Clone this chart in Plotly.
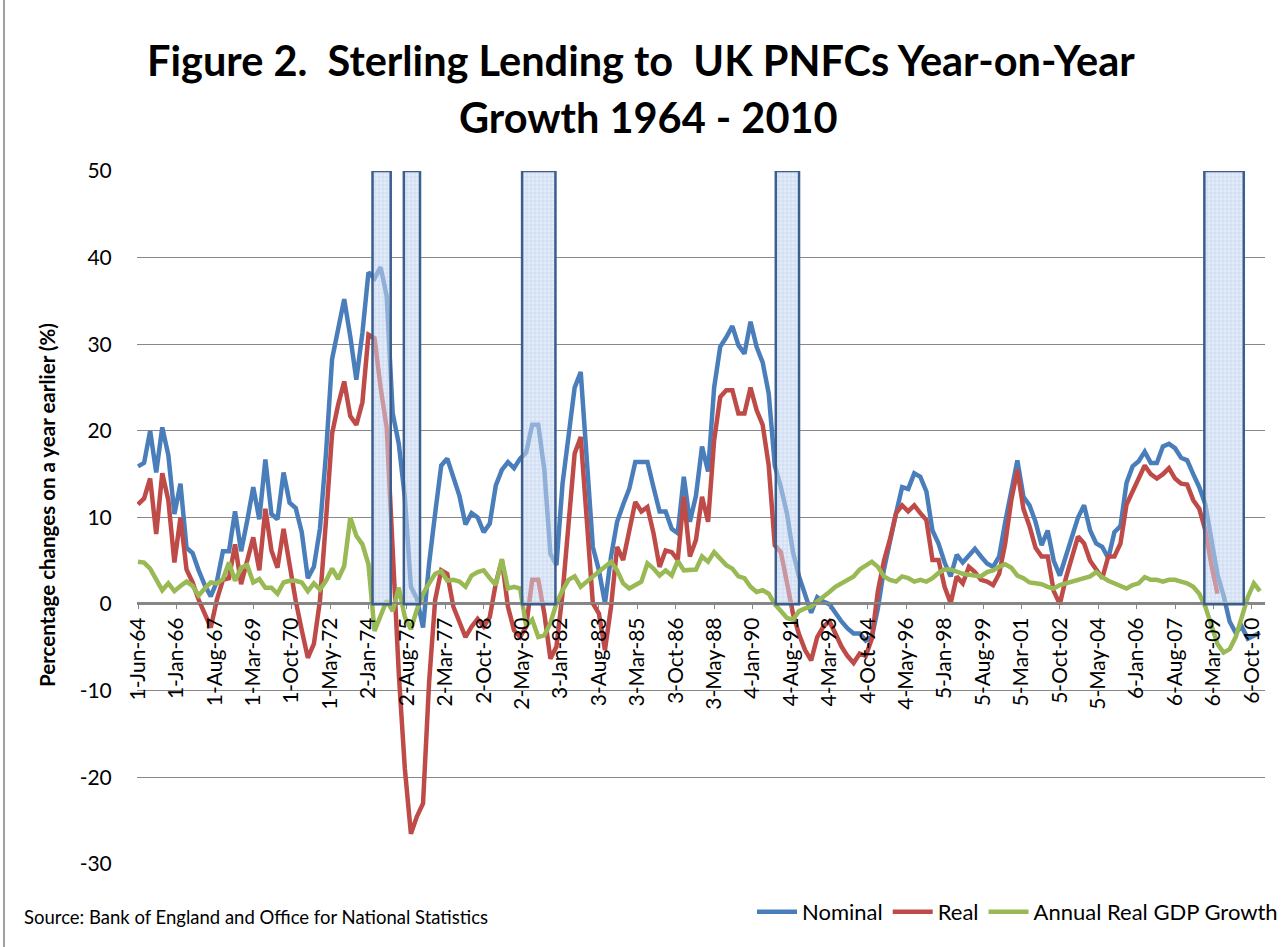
import plotly.graph_objects as go

# ---------------- data (quarterly, starting Jun-1964) ----------------
nominal = [15.9,16.3,20.0,15.2,20.4,17.2,10.4,13.9,6.5,5.9,
 3.9,2.2,0.9,2.6,6.1,6.1,10.7,6.1,9.6,13.5,
 9.8,16.7,10.4,9.8,15.2,11.7,11.1,8.3,3.0,4.3,
 8.7,17.4,28.3,31.5,35.2,30.9,25.9,31.3,38.3,37.6,
 38.9,35.6,22.0,18.5,12.3,2.0,0.6,-2.7,4.7,10.5,
 16.0,16.8,14.7,12.5,9.2,10.5,10.0,8.3,9.3,13.7,
 15.5,16.4,15.7,16.8,17.5,20.7,20.7,15.5,5.8,4.5,
 13.9,20.0,25.0,26.8,16.6,6.6,3.9,0.1,5.5,9.5,
 11.5,13.3,16.4,16.4,16.4,13.5,10.7,10.7,8.7,8.2,
 14.7,9.5,12.5,18.2,15.3,25.0,29.7,30.8,32.1,29.9,
 28.9,32.6,29.7,27.9,24.3,16.0,13.5,10.5,6.0,3.2,
 1.2,-1.0,0.8,0.3,0.0,-1.1,-2.0,-2.8,-3.4,-3.4,
 -4.2,-3.8,-0.5,4.0,7.5,10.5,13.5,13.3,15.1,14.7,
 13.0,8.5,7.0,4.8,3.2,5.7,4.8,5.6,6.4,5.5,
 4.7,4.3,5.5,9.5,13.0,16.6,12.4,11.4,9.5,6.8,
 8.5,5.0,3.3,5.5,8.0,10.0,11.4,8.5,7.0,6.6,
 5.3,8.3,9.0,14.0,15.9,16.5,17.6,16.3,16.3,18.2,
 18.5,18.0,16.9,16.6,15.0,13.5,11.5,7.5,3.4,1.0,
 -2.0,-3.3,-2.6,-4.0,-3.6,-3.3]

real = [11.5,12.2,14.5,8.1,15.1,12.0,4.8,10.0,4.0,2.5,
 0.5,-1.2,-2.7,0.5,2.8,3.0,6.9,2.3,5.0,7.7,
 3.9,11.0,6.2,4.2,8.7,4.2,0.4,-3.0,-6.2,-4.6,
 0.4,9.7,19.7,23.0,25.7,21.7,20.7,23.3,31.1,30.7,
 25.0,20.4,6.0,-8.0,-19.0,-26.5,-24.5,-23.0,-9.0,0.5,
 3.9,3.5,-0.3,-2.2,-3.8,-2.6,-1.7,-2.6,-1.5,2.4,
 5.1,-0.3,-3.0,-3.8,-2.6,2.8,2.8,-1.1,-6.3,-4.9,
 1.2,9.3,17.4,19.3,10.0,0.1,-1.1,-5.3,-0.3,6.6,
 5.1,8.5,11.8,10.7,11.2,8.2,4.3,6.2,6.0,5.1,
 12.4,5.5,7.4,12.4,9.5,18.9,23.9,24.7,24.7,22.0,
 22.0,25.0,22.4,20.7,16.0,6.8,6.0,2.5,-1.1,-3.5,
 -5.3,-6.5,-3.8,-2.6,-2.0,-3.4,-4.9,-6.0,-6.8,-5.7,
 -6.0,-4.0,1.5,5.0,7.5,10.5,11.4,10.7,11.4,10.5,
 9.7,5.1,5.1,2.0,0.1,3.2,2.4,4.3,3.7,2.8,
 2.6,2.2,3.5,7.0,12.0,15.5,11.0,9.0,6.5,5.5,
 5.5,1.5,0.0,3.0,5.5,7.8,7.0,5.0,4.0,3.0,
 5.5,5.5,7.0,11.5,13.0,14.5,16.0,15.0,14.5,15.0,
 15.7,14.5,13.9,13.8,12.0,11.0,8.5,4.5,1.2]

gdp = [4.9,4.8,4.1,2.9,1.6,2.4,1.5,2.1,2.6,2.1,
 1.0,1.8,2.5,2.4,2.9,4.8,2.7,4.2,4.5,2.5,
 2.9,1.9,1.9,1.2,2.5,2.7,2.7,2.5,1.5,2.4,
 1.7,2.7,4.1,2.9,4.4,10.0,7.9,6.9,4.6,-3.1,
 -1.2,0.4,-0.8,1.9,-1.5,-2.9,-0.6,1.2,2.4,3.5,
 3.8,2.7,2.8,2.6,2.0,3.3,3.7,3.9,3.0,2.2,
 5.2,1.8,2.0,1.8,-2.5,-1.8,-3.8,-3.6,-2.2,0.1,
 1.6,2.8,3.2,2.0,2.6,3.2,3.7,4.3,4.9,3.9,
 2.4,1.8,2.2,2.6,4.7,4.1,3.3,3.9,3.3,5.0,
 3.9,3.9,4.0,5.5,4.9,6.0,5.3,4.5,4.1,3.2,
 3.0,2.0,1.4,1.6,1.2,0.0,-0.8,-1.6,-1.8,-0.8,
 -0.5,-0.3,0.3,0.8,1.4,2.0,2.4,2.8,3.2,4.0,
 4.5,4.9,4.3,3.2,2.8,2.6,3.2,3.0,2.6,2.8,
 2.6,3.0,3.6,4.0,4.0,3.7,3.5,3.4,3.3,3.2,
 3.7,3.9,4.3,4.6,4.2,3.3,3.0,2.5,2.4,2.3,
 2.0,1.8,2.2,2.4,2.6,2.8,3.0,3.2,3.7,3.1,
 2.7,2.4,2.2,1.8,2.2,2.4,3.1,2.8,2.8,2.6,
 2.8,2.8,2.6,2.4,2.0,1.2,-0.3,-2.5,-4.6,-5.6,
 -5.2,-3.8,-1.6,0.8,2.4,1.5]

tick_labels = ["1-Jun-64","1-Jan-66","1-Aug-67","1-Mar-69","1-Oct-70","1-May-72",
 "2-Jan-74","2-Aug-75","2-Mar-77","2-Oct-78","2-May-80","3-Jan-82","3-Aug-83",
 "3-Mar-85","3-Oct-86","3-May-88","4-Jan-90","4-Aug-91","4-Mar-93","4-Oct-94",
 "4-May-96","5-Jan-98","5-Aug-99","5-Mar-01","5-Oct-02","5-May-04","6-Jan-06",
 "6-Aug-07","6-Mar-09","6-Oct-10"]
label_step_months = 19

y_ticks = [-30, -20, -10, 0, 10, 20, 30, 40, 50]

# recession periods (months after Jun-1964)
recession_start = [116, 131.5, 190, 315.5, 527.5]
recession_end = [125, 139.5, 206.5, 327, 547]
recession_top = 50

# ---------------- layout helpers ----------------
W, H = 1283, 947
ML, MR, MT, MB = 137, 18, 171, 83
PW, PH = W - ML - MR, H - MT - MB

def px(x):
    return (x - ML) / PW

def py(y):
    return (H - MB - y) / PH

months = lambda series: [3 * i for i in range(len(series))]

BLUE, RED, GREEN = "#4A7EBB", "#BE4B48", "#98B954"
BOX = "#3B5E8C"
FONT = "Lato"

fig = go.Figure()

# patterned recession boxes (underneath)
fig.add_trace(go.Bar(
    x=[(s + e) / 2 for s, e in zip(recession_start, recession_end)],
    y=[recession_top] * len(recession_start),
    width=[e - s for s, e in zip(recession_start, recession_end)],
    base=0, showlegend=False, hoverinfo="skip",
    marker=dict(color="#EEF3FB", line=dict(width=0),
                pattern=dict(shape="+", fgcolor="#8FADDC", bgcolor="#F4F7FC", size=4, solidity=0.4)),
))

fig.add_trace(go.Scatter(x=months(nominal), y=nominal, name="Nominal", mode="lines",
                         line=dict(color=BLUE, width=4.5)))
fig.add_trace(go.Scatter(x=months(real), y=real, name="Real", mode="lines",
                         line=dict(color=RED, width=4.5)))
fig.add_trace(go.Scatter(x=months(gdp), y=gdp, name="Annual Real GDP Growth", mode="lines",
                         line=dict(color=GREEN, width=4.5)))

# translucent veil + outline of the recession boxes (above the lines)
for s, e in zip(recession_start, recession_end):
    fig.add_shape(type="rect", xref="x", yref="y", x0=s, x1=e, y0=0, y1=recession_top,
                  fillcolor="rgba(214,226,245,0.5)", line=dict(color=BOX, width=2.5),
                  layer="above")

# chart border on left
fig.add_shape(type="line", xref="paper", yref="paper", x0=px(4), x1=px(4), y0=py(0), y1=py(H),
              line=dict(color="#A0A0A0", width=2))

annotations = [
    dict(text="<b>Figure 2.  Sterling Lending to  UK PNFCs Year-on-Year</b>", x=px(641), y=py(60),
         font=dict(size=41.5, family=FONT, color="black")),
    dict(text="<b>Growth 1964 - 2010</b>", x=px(648), y=py(117),
         font=dict(size=41.5, family=FONT, color="black")),
    dict(text="<b>Percentage changes on a year earlier (%)</b>", x=px(47), y=py(505), textangle=-90,
         font=dict(size=20.5, family=FONT, color="black")),
    dict(text="Source: Bank of England and Office for National Statistics", x=px(22), y=py(917),
         xanchor="left", font=dict(size=18.5, family=FONT, color="black")),
]
for a in annotations:
    a.setdefault("xanchor", "center")
    fig.add_annotation(xref="paper", yref="paper", yanchor="middle", showarrow=False, **a)

fig.update_layout(
    width=W, height=H,
    margin=dict(l=ML, r=MR, t=MT, b=MB, autoexpand=False),
    paper_bgcolor="white", plot_bgcolor="white",
    font=dict(family=FONT, color="black"),
    showlegend=True,
    legend=dict(orientation="h", x=px(1283), xanchor="right", y=py(912), yanchor="middle",
                font=dict(size=22, family=FONT), itemwidth=40, bgcolor="rgba(0,0,0,0)",
                tracegroupgap=0),
    xaxis=dict(range=[-0.5, 557.5], tickmode="array",
               tickvals=[label_step_months * i for i in range(len(tick_labels))],
               ticktext=tick_labels, tickangle=-90, tickfont=dict(size=21, family=FONT),
               showgrid=False, zeroline=False, showline=True, linecolor="#868686", linewidth=1.5,
               anchor="free", position=py(603.3), ticks="outside", ticklen=5,
               tickcolor="#868686"),
    yaxis=dict(range=[-30, 50], tickmode="array", tickvals=y_ticks,
               ticktext=[str(v) for v in y_ticks],
               showgrid=True, gridcolor="#888888", gridwidth=1.3,
               zeroline=False, showline=False, tickfont=dict(size=21, family=FONT),
               ticks="outside", ticklen=20, tickcolor="rgba(0,0,0,0)"),
)

fig.write_html("out.html", config={"displayModeBar": False},
               post_script="document.body.style.margin='0';")
